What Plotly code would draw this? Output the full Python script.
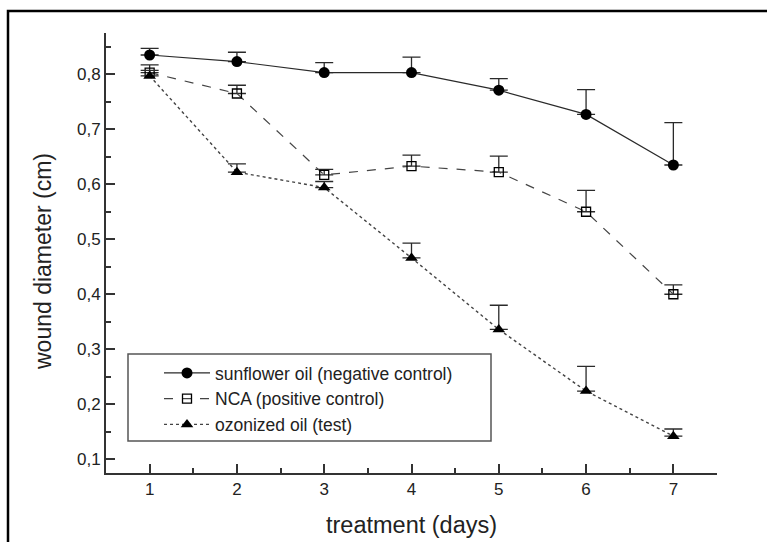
import plotly.graph_objects as go

days = [1, 2, 3, 4, 5, 6, 7]
sunflower = [0.835, 0.823, 0.803, 0.803, 0.771, 0.727, 0.635]
sunflower_err = [0.012, 0.017, 0.018, 0.028, 0.021, 0.045, 0.077]
nca = [0.803, 0.765, 0.617, 0.633, 0.622, 0.550, 0.400]
nca_err = [0.014, 0.015, 0.010, 0.020, 0.029, 0.039, 0.017]
ozon = [0.797, 0.622, 0.594, 0.466, 0.336, 0.224, 0.142]
ozon_err = [0.010, 0.015, 0.011, 0.027, 0.044, 0.045, 0.013]

y_tickvals = [0.1, 0.2, 0.3, 0.4, 0.5, 0.6, 0.7, 0.8]
y_ticktext = ["0,1", "0,2", "0,3", "0,4", "0,5", "0,6", "0,7", "0,8"]
x_tickvals = [1, 2, 3, 4, 5, 6, 7]
x_ticktext = ["1", "2", "3", "4", "5", "6", "7"]

names = ["sunflower oil (negative control)", "NCA (positive control)", "ozonized oil (test)"]
x_title = "treatment (days)"
y_title = "wound diameter (cm)"

LINE = "#2a2a2a"
FONT = "Liberation Sans, Arial, sans-serif"

def err(vals):
    return dict(type="data", symmetric=False, array=vals, arrayminus=[0] * len(vals),
                color=LINE, thickness=1.3, width=9)

fig = go.Figure()
fig.add_trace(go.Scatter(
    x=days, y=sunflower, name=names[0], mode="lines+markers",
    line=dict(color=LINE, width=1.2, dash="solid"),
    marker=dict(symbol="circle", size=11, color="#000000"),
    error_y=err(sunflower_err)))
fig.add_trace(go.Scatter(
    x=days, y=nca, name=names[1], mode="lines+markers",
    line=dict(color="#444444", width=1.2, dash="dash"),
    marker=dict(symbol="square-open", size=9, color="#000000", line=dict(width=1.3)),
    error_y=err(nca_err)))
fig.add_trace(go.Scatter(
    x=days, y=ozon, name=names[2], mode="lines+markers",
    line=dict(color="#444444", width=1.4, dash="dot"),
    marker=dict(symbol="triangle-up", size=11, color="#000000"),
    error_y=err(ozon_err)))

L, R, T, B = 106, 50, 33, 69
W, H = 767, 542
pw, ph = W - L - R, H - T - B

def px(xp):
    return (xp - L) / pw

def py(yp):
    return (H - B - yp) / ph

shapes = [
    # outer frame (top and left visible)
    dict(type="rect", xref="paper", yref="paper",
         x0=px(8), x1=px(800), y0=py(11), y1=py(600),
         line=dict(color="#000000", width=2.5), fillcolor="rgba(0,0,0,0)", layer="below"),
    # legend box
    dict(type="rect", xref="paper", yref="paper",
         x0=px(128), x1=px(491), y0=py(441), y1=py(354),
         line=dict(color="#555555", width=1.5), fillcolor="rgba(0,0,0,0)"),
]

annotations = [
    dict(text=y_title, xref="paper", yref="paper", x=px(43), y=py(262),
         xanchor="center", yanchor="middle", textangle=-90, showarrow=False,
         font=dict(size=23, family=FONT, color="#222222")),
    dict(text=x_title, xref="paper", yref="paper", x=px(411), y=py(525),
         xanchor="center", yanchor="middle", showarrow=False,
         font=dict(size=23.5, family=FONT, color="#222222")),
]

fig.update_layout(
    width=W, height=H,
    margin=dict(l=L, r=R, t=T, b=B, pad=0, autoexpand=False),
    paper_bgcolor="white", plot_bgcolor="white",
    font=dict(family=FONT, color="#222222", size=17),
    shapes=shapes,
    annotations=annotations,
    showlegend=True,
    legend=dict(x=px(159), y=py(355), xanchor="left", yanchor="top",
                bgcolor="rgba(0,0,0,0)", borderwidth=0,
                font=dict(size=17.5, family=FONT, color="#222222"),
                itemwidth=46, tracegroupgap=0),
    xaxis=dict(range=[0.5, 7.5], tickvals=x_tickvals, ticktext=x_ticktext,
               ticks="inside", ticklen=9, tickwidth=1.5, tickcolor="#333333",
               showline=True, linecolor="#333333", linewidth=1.8, mirror=False,
               showgrid=False, zeroline=False, automargin=False,
               tickfont=dict(size=17, family=FONT, color="#222222"),
               minor=dict(dtick=0.5, tick0=0.5, ticks="inside", ticklen=5, tickwidth=1.5,
                          tickcolor="#333333", showgrid=False)),
    yaxis=dict(range=[0.075, 0.875], tickvals=y_tickvals, ticktext=y_ticktext,
               ticks="inside", ticklen=9, tickwidth=1.5, tickcolor="#333333",
               showline=True, linecolor="#333333", linewidth=1.8, mirror=False,
               showgrid=False, zeroline=False, automargin=False,
               tickfont=dict(size=17, family=FONT, color="#222222"),
               minor=dict(dtick=0.05, tick0=0.05, ticks="inside", ticklen=5, tickwidth=1.5,
                          tickcolor="#333333", showgrid=False)),
)

fig.write_html("out.html", config={"displayModeBar": False},
               post_script="document.body.style.margin='0';document.body.style.padding='0';")
